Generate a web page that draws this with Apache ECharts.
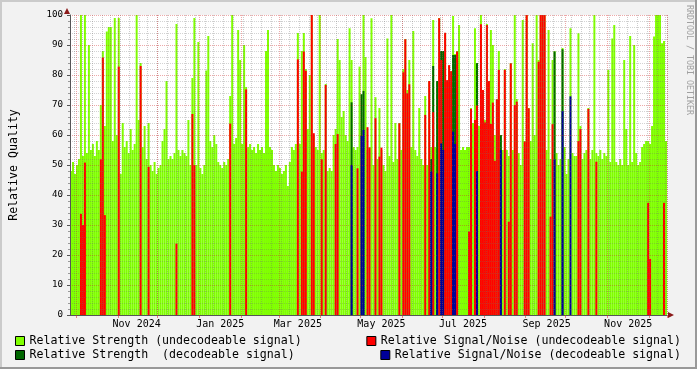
<!DOCTYPE html>
<html><head><meta charset="utf-8">
<script src="https://cdn.jsdelivr.net/npm/echarts@6/dist/echarts.min.js"></script>
<style>html,body{margin:0;padding:0;background:#f2f2f2}#c{width:697px;height:369px}</style>
</head><body><div id="c"></div>
<script>
// Relative Strength (undecodeable signal), one value per bar (~1.48 days each)
const strength = [
  48, 51, 47, 50, 52, 100, 53, 100, 54, 90,
  55, 57, 53, 58, 55, 70, 88, 63, 94.5, 96,
  96, 58, 99, 60, 99, 47, 64, 56, 58, 54,
  62, 55, 57, 100, 65, 84, 56, 63, 52, 64,
  50, 48, 51, 47, 49, 50, 58, 62, 78, 52,
  53, 52, 54, 97, 55, 53, 55, 54, 53, 65,
  50, 79, 99, 50, 91, 49, 47, 50, 81.5, 93,
  58, 56, 60, 57, 51, 50, 49, 51, 50, 52,
  73, 100, 57, 59, 95, 85, 57, 90, 76, 56,
  57, 55, 56, 54, 57, 55, 56, 54, 88, 95,
  56, 55, 50, 48, 50, 49, 47, 48, 50, 43,
  51, 56, 55, 57, 94, 57, 88, 94, 82, 62,
  80, 100, 60, 56, 55, 100, 54, 55, 77, 48,
  49, 48, 60, 62, 92, 85, 66, 68, 60, 58,
  95.6, 85, 56, 55, 56, 82.8, 60, 100, 86, 55,
  56, 98.9, 50, 72.6, 52, 69, 55, 50, 48, 92.2,
  53, 100, 51, 64, 52, 64, 55, 82, 92, 75,
  85, 56, 94.7, 55, 53, 69, 52, 50, 73, 50,
  78, 56, 98.3, 56, 78, 99, 88, 88, 94, 78,
  83, 81, 99.7, 87, 88, 96.7, 55, 56, 55, 56,
  56, 69, 64, 95.6, 84, 63, 100, 75, 65, 97,
  78, 95, 90, 60, 72, 88, 60, 55, 82, 55,
  53, 84, 55, 100, 72, 54, 50, 98.3, 58, 100,
  69, 58, 90.6, 60, 100, 85, 100, 100, 100, 55,
  95, 52, 85, 88, 54, 50, 52, 89, 56, 47,
  52, 95.6, 54, 53, 53, 93.9, 63, 52, 54, 55,
  69, 52, 55, 100, 54, 53, 55, 52, 54, 53,
  81.7, 51, 92.2, 96.7, 51, 50, 52, 50, 85, 62,
  50, 93, 51, 90, 54, 50, 51, 56, 57, 58,
  58, 57, 63, 92.8, 100, 100, 100, 90.6, 91.3, 58
];
// Relative Strength (decodeable signal): [bar index, value]
const strengthDec = [[141,70.9],[146,73.6],[147,74.7],[181,52],[182,83],[184,78],[186,88],[187,88],
  [192,86.7],[193,86.7],[204,84],[216,60],[243,87.8],[247,88.6]];
// Relative Signal/Noise (undecodeable signal): [bar index, value]
const snrUndec = [[5,33.7],[6,30],[7,50.8],[15,51.9],[16,85.8],[17,33.3],[24,82.8],[35,83],[39,49.4],[53,23.8],
  [61,67],[62,50],[80,63.8],[88,75.2],[114,85.2],[116,47.8],[117,87.8],[118,81.4],[121,100],[122,60.6],
  [126,51.9],[128,76.7],[133,57],[134,60.3],[144,48.9],[149,62.6],[150,55.8],[153,65.6],[155,52.8],[156,55.8],
  [165,63.9],[167,80.9],[168,91.9],[169,73.9],[170,76.9],[178,66.7],[180,78],[182,67.6],[185,98.9],[186,85],
  [188,94.1],[189,78.3],[190,83.3],[191,81.3],[194,87.8],[200,27.8],[201,68.7],[203,65],[204,69.8],[206,96.9],
  [207,75],[208,64.2],[209,96.7],[210,78],[211,63.7],[212,70.8],[213,51.4],[214,71.9],[215,81.7],[218,81.7],
  [220,31.1],[221,83.9],[223,70],[224,71.1],[228,57.8],[229,100],[230,68.9],[235,84.4],[236,100],[237,100],
  [238,100],[241,32.8],[242,63.6],[255,58],[256,62],[260,68.7],[264,51.1],[290,37.4],[291,18.7],[298,37.4]];
// Relative Signal/Noise (decodeable signal): [bar index, value]
const snrDec = [[141,50],[146,59.7],[147,61.7],[181,47.8],[184,47.2],[186,57.2],[187,55],[192,61.1],
  [193,57],[204,48],[216,55],[243,51.9],[247,68],[251,72.9]];

const tickLabels = ['Nov 2024','Jan 2025','Mar 2025','May 2025','Jul 2025','Sep 2025','Nov 2025'];
const tickLabelDates = ['2024-11-16','2025-01-16','2025-03-16','2025-05-16','2025-07-16','2025-09-16','2025-11-16'];
const firstMonth = [2024, 9];   // Oct 2024
const monthCount = 15;          // Oct 2024 .. Dec 2025
const startMs = Date.UTC(2024, 8, 26, 16);
const spanDays = 444.4;

const DAY = 864e5;
const barDays = spanDays / strength.length;
const categories = strength.map((_, i) => new Date(startMs + i * barDays * DAY).toISOString().slice(0, 10));
const idxAt = ms => Math.round((ms - startMs) / DAY / barDays);
const monthIdx = new Set();
for (let k = 0; k < monthCount; k++) monthIdx.add(idxAt(Date.UTC(firstMonth[0], firstMonth[1] + k, 1)));
const weekIdx = new Set();
for (let ms = Date.UTC(2024, 8, 29); ms < startMs + spanDays * DAY; ms += 7 * DAY) weekIdx.add(idxAt(ms));
const labelAt = {};
tickLabelDates.forEach((d, k) => {
  const ms = Date.parse(d + 'T00:00:00Z');
  labelAt[Math.round((ms - startMs) / DAY / barDays - 0.5)] = tickLabels[k];
});

const FONT = 'DejaVu Sans Mono';
const names = ['Relative Strength (undecodeable signal)', 'Relative Strength  (decodeable signal)',
  'Relative Signal/Noise (undecodeable signal)', 'Relative Signal/Noise (decodeable signal)'];
const colors = ['#80ff00', '#006600', '#ff0000', '#000099'];
const legendCommon = {
  orient: 'horizontal', icon: 'rect', itemWidth: 9, itemHeight: 9, padding: 0, selectedMode: false,
  textStyle: { fontFamily: FONT, fontSize: 11.6, color: '#000' },
  itemStyle: { borderColor: '#000', borderWidth: 1 }
};
const barCommon = { type: 'bar', barWidth: '100%', barGap: '-100%', barCategoryGap: 0, silent: true, animation: false };

const chart = echarts.init(document.getElementById('c'), null, { renderer: 'canvas' });
chart.setOption({
  backgroundColor: '#f2f2f2',
  animation: false,
  grid: { left: 67, top: 15, width: 600, height: 300, show: true, backgroundColor: '#ffffff', borderWidth: 0 },
  legend: [
    Object.assign({}, legendCommon, { data: [names[0]], left: 15, top: 335 }),
    Object.assign({}, legendCommon, { data: [names[1]], left: 15, top: 349 }),
    Object.assign({}, legendCommon, { data: [names[2]], right: 16, top: 335 }),
    Object.assign({}, legendCommon, { data: [names[3]], right: 16, top: 349 })
  ],
  xAxis: [
    {
      type: 'category', data: categories, boundaryGap: true, z: 6,
      axisLine: { lineStyle: { color: '#555555' } },
      axisTick: { show: true, interval: i => monthIdx.has(i), length: 3, lineStyle: { color: 'rgba(210,40,40,0.55)' } },
      axisLabel: { interval: i => labelAt[i] !== undefined, formatter: (v, i) => labelAt[i] || '',
        fontFamily: FONT, fontSize: 10, color: '#000', margin: 4 },
      splitLine: { show: true, interval: i => monthIdx.has(i), lineStyle: { color: 'rgba(210,40,40,0.4)', type: 'dotted' } }
    },
    {
      type: 'category', data: categories, boundaryGap: true, z: 5, position: 'bottom',
      axisLine: { show: false }, axisTick: { show: false }, axisLabel: { show: false },
      splitLine: { show: true, interval: i => weekIdx.has(i), lineStyle: { color: 'rgba(110,110,110,0.35)', type: 'dotted' } }
    }
  ],
  yAxis: {
    type: 'value', min: 0, max: 100, interval: 10, z: 6,
    name: 'Relative Quality', nameLocation: 'middle', nameGap: 50,
    nameTextStyle: { fontFamily: FONT, fontSize: 11.6, color: '#000' },
    axisLine: { show: true, lineStyle: { color: '#555555' } },
    axisTick: { show: true, length: 3, lineStyle: { color: '#555555' } },
    minorTick: { show: true, splitNumber: 5, length: 2, lineStyle: { color: '#999999' } },
    axisLabel: { fontFamily: FONT, fontSize: 9.2, color: '#000', margin: 7 },
    splitLine: { show: true, lineStyle: { color: 'rgba(210,40,40,0.4)', type: 'dotted' } },
    minorSplitLine: { show: true, lineStyle: { color: 'rgba(110,110,110,0.3)', type: 'dotted' } }
  },
  series: [
    Object.assign({}, barCommon, { name: names[0], data: strength, itemStyle: { color: colors[0] } }),
    Object.assign({}, barCommon, { name: names[1], data: strengthDec, itemStyle: { color: colors[1] } }),
    Object.assign({}, barCommon, { name: names[2], data: snrUndec, itemStyle: { color: colors[2] } }),
    Object.assign({}, barCommon, { name: names[3], data: snrDec, itemStyle: { color: colors[3] } })
  ],
  graphic: [
    { type: 'rect', z: 100, shape: { x: 0, y: 0, width: 697, height: 2 }, style: { fill: '#cbcbcb' } },
    { type: 'rect', z: 100, shape: { x: 0, y: 0, width: 2, height: 369 }, style: { fill: '#cbcbcb' } },
    { type: 'rect', z: 100, shape: { x: 0, y: 367, width: 697, height: 2 }, style: { fill: '#999999' } },
    { type: 'rect', z: 100, shape: { x: 695, y: 0, width: 2, height: 369 }, style: { fill: '#999999' } },
    { type: 'polygon', z: 100, shape: { points: [[64, 14], [70, 14], [67, 8]] }, style: { fill: '#8b1a1a' } },
    { type: 'polygon', z: 100, shape: { points: [[668, 312], [668, 318], [674, 315]] }, style: { fill: '#8b1a1a' } },
    { type: 'text', z: 100, x: 685, y: 5, rotation: -Math.PI / 2,
      style: { text: 'RRDTOOL / TOBI OETIKER', fill: '#a0a0a0', font: '8.3px "DejaVu Sans Mono"', textAlign: 'left', textVerticalAlign: 'bottom' } }
  ]
});
</script>
</body></html>
